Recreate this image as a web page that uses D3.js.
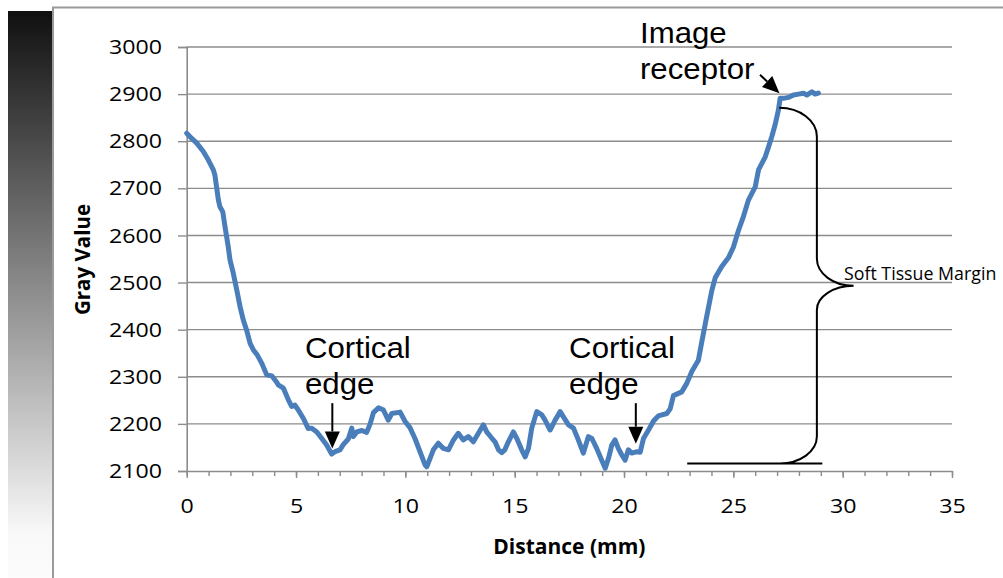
<!DOCTYPE html>
<html>
<head>
<meta charset="utf-8">
<script src="https://cdn.jsdelivr.net/npm/d3@7"></script>
<style>
  html, body { margin: 0; padding: 0; background: #fff; }
  svg { display: block; }
</style>
</head>
<body>
<svg id="chart" width="1003" height="578"></svg>
<script>
// Line profile of gray value across the scan (distance in mm)
const distance = [
  0.00, 0.23, 0.46, 0.76, 0.99, 1.22, 1.29, 1.45, 1.52, 1.65, 1.75, 1.90, 1.98, 2.13, 2.29,
  2.44, 2.59, 2.74, 2.90, 3.05, 3.23, 3.43, 3.66, 3.89, 4.09, 4.19, 4.42, 4.65, 4.80, 4.95,
  5.11, 5.33, 5.56, 5.72, 5.95, 6.18, 6.40, 6.63, 6.78, 7.01, 7.16, 7.39, 7.55, 7.62, 7.78,
  8.01, 8.23, 8.39, 8.54, 8.77, 8.99, 9.22, 9.38, 9.76, 9.99, 10.21, 10.44, 10.67, 10.90, 10.98,
  11.13, 11.28, 11.51, 11.74, 11.97, 12.20, 12.42, 12.65, 12.88, 13.11, 13.34, 13.57, 13.72, 13.95, 14.10,
  14.26, 14.41, 14.55, 14.71, 14.94, 15.10, 15.32, 15.48, 15.63, 15.78, 16.01, 16.24, 16.39, 16.62, 16.85,
  17.08, 17.23, 17.46, 17.69, 17.91, 18.14, 18.37, 18.53, 18.75, 18.98, 19.14, 19.29, 19.44, 19.59, 19.74,
  19.90, 20.05, 20.20, 20.36, 20.59, 20.74, 20.89, 21.12, 21.35, 21.57, 21.96, 22.11, 22.26, 22.64, 22.87,
  23.10, 23.40, 23.56, 23.79, 24.02, 24.17, 24.47, 24.78, 25.00, 25.23, 25.46, 25.69, 26.00, 26.15, 26.46,
  26.61, 26.76, 26.91, 27.06, 27.14, 27.29, 27.52, 27.75, 27.98, 28.21, 28.36, 28.59, 28.74, 28.89
];
const grayValue = [
  2817, 2806, 2796, 2778, 2760, 2739, 2728, 2675, 2661, 2650, 2619, 2576, 2548, 2520, 2484,
  2449, 2420, 2399, 2371, 2357, 2346, 2329, 2304, 2302, 2290, 2283, 2276, 2251, 2237, 2240,
  2229, 2212, 2190, 2191, 2183, 2169, 2155, 2136, 2141, 2145, 2156, 2168, 2191, 2173, 2183,
  2186, 2182, 2200, 2224, 2234, 2230, 2208, 2222, 2225, 2205, 2192, 2169, 2141, 2113, 2109,
  2127, 2145, 2159, 2148, 2145, 2166, 2180, 2166, 2173, 2162, 2180, 2198, 2183, 2170, 2162,
  2145, 2139, 2145, 2162, 2183, 2169, 2145, 2130, 2148, 2191, 2226, 2219, 2208, 2187, 2208,
  2226, 2215, 2198, 2191, 2166, 2138, 2173, 2169, 2148, 2123, 2106, 2127, 2155, 2166, 2148,
  2134, 2123, 2145, 2138, 2141, 2140, 2169, 2187, 2206, 2217, 2222, 2232, 2260, 2268, 2286,
  2311, 2335, 2375, 2430, 2484, 2510, 2534, 2553, 2575, 2610, 2640, 2675, 2703, 2739, 2767,
  2788, 2810, 2835, 2866, 2891, 2891, 2893, 2898, 2900, 2902, 2898, 2905, 2900, 2902
];

// Axis ticks
const xTickValues = [0, 5, 10, 15, 20, 25, 30, 35];
const xMinorTickValues = d3.range(0, 36, 1);
const yTickValues = [2100, 2200, 2300, 2400, 2500, 2600, 2700, 2800, 2900, 3000];

// Annotation texts
const corticalLabel = ["Cortical", "edge"];
const receptorLabel = ["Image", "receptor"];
const marginLabel = "Soft Tissue Margin";

const svg = d3.select("#chart");

const x = d3.scaleLinear().domain([0, 35]).range([186.7, 952]);
const y = d3.scaleLinear().domain([2100, 3000]).range([471, 47]);

// Stretch rendered text horizontally by a factor
function stretch(sel, k) {
  sel.each(function () {
    const w = this.getComputedTextLength();
    d3.select(this).attr("textLength", w * k).attr("lengthAdjust", "spacingAndGlyphs");
  });
}

// Dark-to-light gradient strip and the outer frame
const defs = svg.append("defs");
const grad = defs.append("linearGradient").attr("id", "strip")
  .attr("x1", 0).attr("y1", 0).attr("x2", 0).attr("y2", 1);
grad.append("stop").attr("offset", "0").attr("stop-color", "#101010");
grad.append("stop").attr("offset", "0.5").attr("stop-color", "#8e8e8e");
grad.append("stop").attr("offset", "0.92").attr("stop-color", "#f8f8f8");
grad.append("stop").attr("offset", "1").attr("stop-color", "#fcfcfc");

svg.append("rect").attr("x", 8).attr("y", 11).attr("width", 44).attr("height", 567)
  .attr("fill", "url(#strip)");
svg.append("path")
  .attr("d", "M53,578 L53,7.5 L1003,7.5")
  .attr("fill", "none").attr("stroke", "#9a9a9a").attr("stroke-width", 2);

// Horizontal gridlines
svg.append("g").selectAll("line")
  .data(yTickValues.filter(v => v > 2100))
  .join("line")
  .attr("x1", x(0)).attr("x2", x(35))
  .attr("y1", d => y(d)).attr("y2", d => y(d))
  .attr("stroke", "#8c8c8c").attr("stroke-width", 1.4);

// Y axis
const yAxis = svg.append("g")
  .attr("transform", `translate(${x(0)},0)`)
  .call(d3.axisLeft(y).tickValues(yTickValues).tickSize(8.7).tickPadding(16).tickFormat(d3.format("d")));
yAxis.select(".domain").attr("stroke", "#8c8c8c").attr("stroke-width", 1.6);
yAxis.selectAll(".tick line").attr("stroke", "#8c8c8c").attr("stroke-width", 1.4);
yAxis.selectAll("text")
  .attr("font-family", "'Open Sans', sans-serif").attr("font-size", 20.5).attr("fill", "#000");
stretch(yAxis.selectAll("text"), 1.13);

// X axis: minor ticks each mm, labelled ticks every 5 mm
const xMinor = svg.append("g")
  .attr("transform", `translate(0,${y(2100)})`)
  .call(d3.axisBottom(x).tickValues(xMinorTickValues).tickSize(5).tickFormat(""));
xMinor.select(".domain").remove();
xMinor.selectAll(".tick line").attr("stroke", "#8c8c8c").attr("stroke-width", 1.4);

const xAxis = svg.append("g")
  .attr("transform", `translate(0,${y(2100)})`)
  .call(d3.axisBottom(x).tickValues(xTickValues).tickSize(7).tickPadding(20).tickSizeOuter(0));
xAxis.select(".domain").attr("stroke", "#8c8c8c").attr("stroke-width", 1.6);
xAxis.selectAll(".tick line").attr("stroke", "#8c8c8c").attr("stroke-width", 1.4);
xAxis.selectAll("text")
  .attr("font-family", "'Open Sans', sans-serif").attr("font-size", 20.5).attr("fill", "#000");
stretch(xAxis.selectAll("text"), 1.13);

// Axis titles
svg.append("text")
  .attr("x", x(17.5)).attr("y", 554)
  .attr("text-anchor", "middle")
  .attr("font-family", "'Open Sans', sans-serif").attr("font-weight", "bold").attr("font-size", 21)
  .text("Distance (mm)");
svg.append("text")
  .attr("transform", `translate(90,${(y(2100) + y(3000)) / 2 + 0.5}) rotate(-90)`)
  .attr("text-anchor", "middle")
  .attr("font-family", "'Open Sans', sans-serif").attr("font-weight", "bold").attr("font-size", 20.5)
  .text("Gray Value");

// Profile line
const points = distance.map((d, i) => [d, grayValue[i]]);
svg.append("path")
  .datum(points)
  .attr("fill", "none")
  .attr("stroke", "#4a7ebb")
  .attr("stroke-width", 5)
  .attr("stroke-linejoin", "round")
  .attr("stroke-linecap", "round")
  .attr("d", d3.line().x(p => x(p[0])).y(p => y(p[1])));

// Arrow helper: shaft plus filled head ending at the tip
function arrow(x1, y1, x2, y2) {
  const dx = x2 - x1, dy = y2 - y1, len = Math.hypot(dx, dy);
  const ux = dx / len, uy = dy / len;
  const headLen = 17, halfW = 7.5;
  const bx = x2 - ux * headLen, by = y2 - uy * headLen;
  svg.append("line")
    .attr("x1", x1).attr("y1", y1).attr("x2", bx).attr("y2", by)
    .attr("stroke", "#000").attr("stroke-width", 2);
  svg.append("path")
    .attr("d", `M${x2},${y2} L${bx - uy * halfW},${by + ux * halfW} L${bx + uy * halfW},${by - ux * halfW} Z`)
    .attr("fill", "#000");
}

// Annotation labels
function label(lines, d, v) {
  const t = svg.append("text")
    .attr("x", x(d)).attr("y", y(v))
    .attr("font-family", "'Liberation Sans', Arial, sans-serif")
    .attr("font-size", 30).attr("fill", "#000");
  lines.forEach((s, i) => {
    t.append("tspan").attr("x", x(d)).attr("dy", i === 0 ? 0 : 36).text(s);
  });
  stretch(t.selectAll("tspan"), 1.04);
}

label(corticalLabel, 5.41, 2339);
arrow(x(6.66), y(2244), x(6.66), y(2148));

label(corticalLabel, 17.49, 2339);
arrow(x(20.54), y(2244), x(20.54), y(2158));

label(receptorLabel, 20.73, 3009);
arrow(x(26.22), y(2941), x(27.11), y(2902));

// Curly brace spanning the soft tissue margin, with its base line
const bL = x(27.1), bS = x(28.82), bP = x(30.5), bE = x(27.12);
const t0 = y(2871), t1 = y(2810), m0 = y(2551), mP = y(2493), m1 = y(2442), b0 = y(2173), bB = y(2116);
const k = 0.55;
const bracePath = [
  `M${bL},${t0}`,
  `C${bL + k * (bS - bL)},${t0} ${bS},${t1 - k * (t1 - t0)} ${bS},${t1}`,
  `L${bS},${m0}`,
  `C${bS},${m0 + k * (mP - m0)} ${bP - k * (bP - bS)},${mP} ${bP},${mP}`,
  `C${bP - k * (bP - bS)},${mP} ${bS},${m1 - k * (m1 - mP)} ${bS},${m1}`,
  `L${bS},${b0}`,
  `C${bS},${b0 + k * (bB - b0)} ${bE + k * (bS - bE)},${bB} ${bE},${bB}`,
  `M${x(22.89)},${bB} L${x(29.07)},${bB}`
].join(" ");
svg.append("path")
  .attr("d", bracePath)
  .attr("fill", "none").attr("stroke", "#000").attr("stroke-width", 2);

svg.append("text")
  .attr("x", x(30.06)).attr("y", y(2506))
  .attr("font-family", "'Open Sans', sans-serif").attr("font-size", 17.8)
  .attr("fill", "#000")
  .text(marginLabel);
</script>
</body>
</html>
